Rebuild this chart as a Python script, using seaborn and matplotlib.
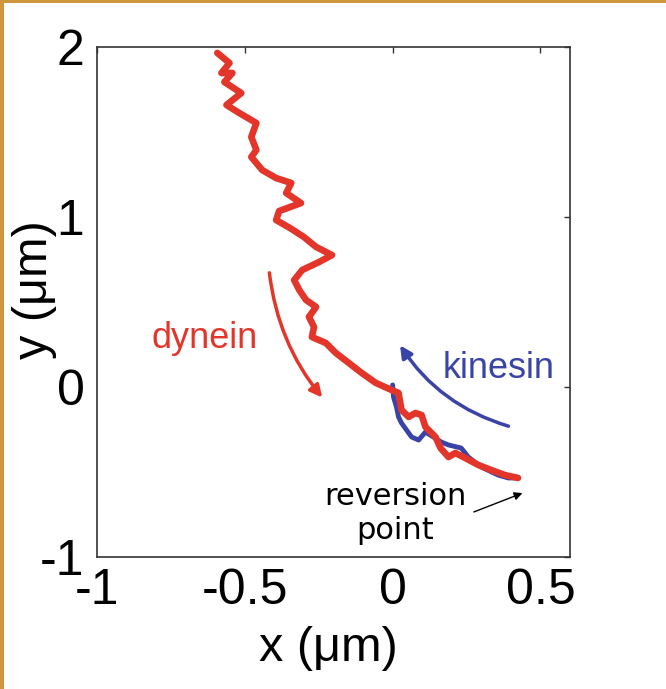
import numpy as np
import pandas as pd
import matplotlib
matplotlib.use("Agg")
import matplotlib.pyplot as plt
from matplotlib.patches import FancyArrowPatch, Rectangle
import seaborn as sns

# ---- data (µm) ----
dynein_x = [-0.593, -0.552, -0.579, -0.542, -0.569, -0.512, -0.562, -0.519, -0.461, -0.478,
            -0.461, -0.478, -0.441, -0.394, -0.343, -0.360, -0.310, -0.384, -0.394, -0.347,
            -0.300, -0.259, -0.205, -0.249, -0.306, -0.333, -0.316, -0.293, -0.259, -0.283,
            -0.266, -0.273, -0.226, -0.192, -0.148, -0.104, -0.057, -0.003, 0.020, 0.030,
            0.054, 0.077, 0.098, 0.111, 0.145, 0.162, 0.189, 0.212, 0.246, 0.290,
            0.333, 0.380, 0.424]
dynein_y = [1.965, 1.906, 1.847, 1.847, 1.794, 1.729, 1.659, 1.612, 1.553, 1.471,
            1.394, 1.353, 1.276, 1.229, 1.200, 1.141, 1.082, 1.035, 0.982, 0.935,
            0.882, 0.824, 0.776, 0.735, 0.688, 0.629, 0.571, 0.512, 0.471, 0.412,
            0.353, 0.294, 0.259, 0.200, 0.141, 0.082, 0.024, -0.018, -0.035, -0.135,
            -0.176, -0.153, -0.165, -0.235, -0.294, -0.359, -0.412, -0.388, -0.418, -0.459,
            -0.488, -0.518, -0.535]

kinesin_x = [0.000, 0.003, 0.013, 0.020, 0.030, 0.064, 0.088, 0.111, 0.165, 0.189,
             0.232, 0.256, 0.300, 0.357, 0.391, 0.414]
kinesin_y = [0.012, -0.059, -0.118, -0.176, -0.212, -0.294, -0.312, -0.265, -0.324, -0.341,
             -0.359, -0.412, -0.471, -0.518, -0.535, -0.535]

x_ticks = [-1, -0.5, 0, 0.5]
x_tick_labels = ["-1", "-0.5", "0", "0.5"]
y_ticks = [-1, 0, 1, 2]
y_tick_labels = ["-1", "0", "1", "2"]

RED = "#E4352A"
BLUE = "#3A43A6"

sns.set_style("white")
plt.rcParams['font.family'] = ['Liberation Sans', 'DejaVu Sans']

fig = plt.figure(figsize=(6.66, 6.89), dpi=100)
fig.patch.set_facecolor("white")
# tan border strips
fig.patches.append(Rectangle((0, 0), 4 / 666, 1, transform=fig.transFigure,
                             facecolor="#D0963E", edgecolor="none", zorder=0))
fig.patches.append(Rectangle((0, 1 - 2.5 / 689), 1, 2.5 / 689, transform=fig.transFigure,
                             facecolor="#D0963E", edgecolor="none", zorder=0))

ax = fig.add_axes([97 / 666, 1 - 557 / 689, 473 / 666, 510 / 689])

kin = pd.DataFrame({"x": kinesin_x, "y": kinesin_y})
dyn = pd.DataFrame({"x": dynein_x, "y": dynein_y})
sns.lineplot(data=kin, x="x", y="y", sort=False, estimator=None, color=BLUE,
             linewidth=3.5, ax=ax, zorder=3)
sns.lineplot(data=dyn, x="x", y="y", sort=False, estimator=None, color=RED,
             linewidth=4.8, ax=ax, zorder=4)

ax.set_xlim(-1, 0.6)
ax.set_ylim(-1, 2)
ax.set_xticks(x_ticks)
ax.set_xticklabels(x_tick_labels)
ax.set_yticks(y_ticks)
ax.set_yticklabels(y_tick_labels)
ax.tick_params(direction="in", length=4, width=1.0, color="#333333",
               top=True, right=True, labelsize=36, labelcolor="black")
ax.tick_params(axis="x", pad=8)
ax.tick_params(axis="y", pad=9)
for s in ax.spines.values():
    s.set_visible(True)
    s.set_color("#333333")
    s.set_linewidth(1.2)

ax.set_xlabel("x (\u03bcm)", fontsize=35, color="black")
ax.set_ylabel("y (\u03bcm)", fontsize=35, color="black")
ax.xaxis.set_label_coords(0.49, -0.135)
ax.yaxis.set_label_coords(-0.085, 0.525)

# annotations
ax.text(-0.636, 0.229, "dynein", color=RED, fontsize=26, ha="center", va="baseline")
ax.text(0.360, 0.053, "kinesin", color=BLUE, fontsize=26, ha="center", va="baseline")
ax.text(0.008, -0.745, "reversion\npoint", color="black", fontsize=22,
        ha="center", va="center", family="DejaVu Sans", linespacing=1.2)

ax.add_patch(FancyArrowPatch((-0.418, 0.688), (-0.232, -0.075),
                             connectionstyle="arc3,rad=0.15", arrowstyle="-|>",
                             mutation_scale=18, lw=2.5, color=RED, zorder=5))
ax.add_patch(FancyArrowPatch((0.401, -0.235), (0.020, 0.259),
                             connectionstyle="arc3,rad=-0.19", arrowstyle="-|>",
                             mutation_scale=18, lw=2.5, color=BLUE, zorder=5))
ax.add_patch(FancyArrowPatch((0.266, -0.741), (0.448, -0.618),
                             arrowstyle="-|>", mutation_scale=12, lw=1.0,
                             color="black", zorder=5))

fig.savefig("out.png", dpi=100)
